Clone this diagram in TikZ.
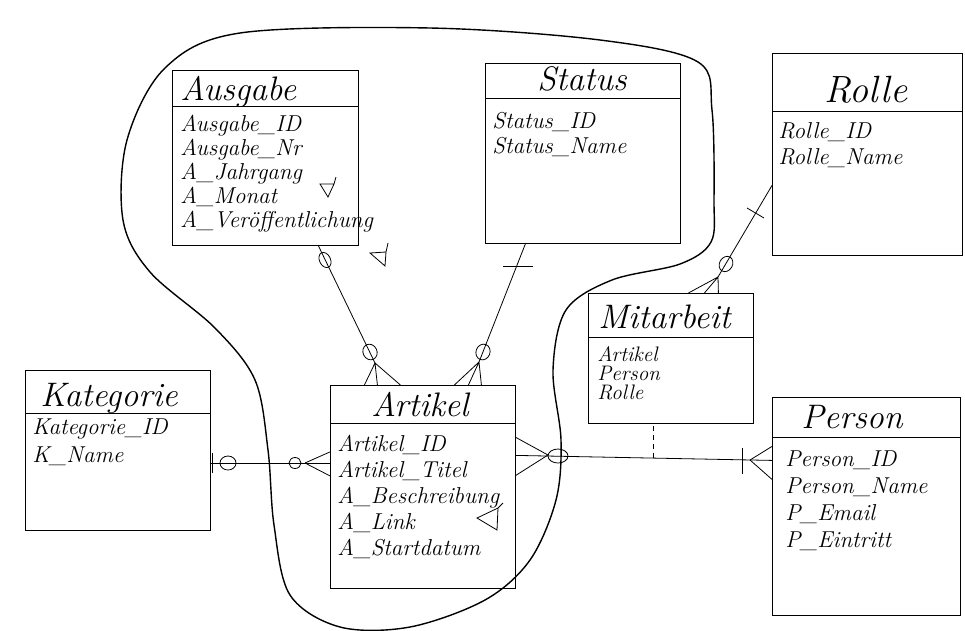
\documentclass[tikz,border=0pt]{standalone}
\usepackage{fontspec}
\usetikzlibrary{calc}

\begin{document}
\begin{tikzpicture}[x=1pt, y=-1pt, line width=0.8pt,
  box/.style={draw, rectangle, anchor=north west, inner sep=0pt},
  titel/.style={font=\fontsize{34}{38}\selectfont\itshape, anchor=base west, inner sep=0pt},
  attr/.style={font=\fontsize{23}{26}\selectfont\itshape, anchor=base west, inner sep=0pt},
  klein/.style={font=\fontsize{21}{21}\selectfont\itshape, anchor=base west, inner sep=0pt}]

\useasboundingbox (0,0) rectangle (965,630);

% the cloud round the core tables
\draw[line width=1.4pt] plot[smooth cycle, tension=0.55] coordinates {(714,200) (712,110)
  (698,62) (600,40) (430,28) (240,33) (165,68) (127,140) (123,220) (150,272) (215,328)
  (255,380) (268,450) (274,525) (290,595) (340,627) (410,627) (485,600) (530,560)
  (556,500) (561,440) (553,370) (566,310) (612,280) (680,264) (711,242)};

% Ausgabe
\node[box, minimum width=186pt, minimum height=175pt] (ausgabe) at (172,70) {};
\draw ([yshift=-36pt]ausgabe.north west) -- ([yshift=-36pt]ausgabe.north east);
\node[titel] (ausgabe-t) at (180,100) {Ausgabe};
\foreach \txt [count=\i] in {Ausgabe\_ID, Ausgabe\_Nr, A\_Jahrgang, A\_Monat, A\_Veröffentlichung}
  \node[attr] (ausgabe-\i) at (180,107+24*\i) {\txt};

% Status
\node[box, minimum width=195pt, minimum height=180pt] (status) at (485,63) {};
\draw ([yshift=-35pt]status.north west) -- ([yshift=-35pt]status.north east);
\node[titel, anchor=base] (status-t) at (582,90) {Status};
\foreach \txt [count=\i] in {Status\_ID, Status\_Name}
  \node[attr] (status-\i) at (492,103+25*\i) {\txt};

% Rolle
\node[box, minimum width=190pt, minimum height=202pt] (rolle) at (772,53) {};
\draw ([yshift=-58pt]rolle.north west) -- ([yshift=-58pt]rolle.north east);
\node[titel, anchor=base, font=\fontsize{38}{40}\selectfont\itshape] (rolle-t) at (866,102) {Rolle};
\foreach \txt [count=\i] in {Rolle\_ID, Rolle\_Name}
  \node[attr] (rolle-\i) at (778,112+26*\i) {\txt};

% Mitarbeit
\node[box, minimum width=165pt, minimum height=130pt] (mitarbeit) at (588,293) {};
\draw ([yshift=-44pt]mitarbeit.north west) -- ([yshift=-44pt]mitarbeit.north east);
\node[titel] (mitarbeit-t) at (598,328) {Mitarbeit};
\foreach \txt [count=\i] in {Artikel, Person, Rolle}
  \node[klein] (mitarbeit-\i) at (597,342+19*\i) {\txt};

% Kategorie
\node[box, minimum width=185pt, minimum height=160pt] (kategorie) at (25,370) {};
\draw ([yshift=-43pt]kategorie.north west) -- ([yshift=-43pt]kategorie.north east);
\node[titel] (kategorie-t) at (40,406) {Kategorie};
\foreach \txt [count=\i] in {Kategorie\_ID, K\_Name}
  \node[attr] (kategorie-\i) at (32,406+28*\i) {\txt};

% Artikel
\node[box, minimum width=185pt, minimum height=203pt] (artikel) at (330,385) {};
\draw ([yshift=-38pt]artikel.north west) -- ([yshift=-38pt]artikel.north east);
\node[titel, anchor=base] (artikel-t) at (420,416) {Artikel};
\foreach \txt [count=\i] in {Artikel\_ID, Artikel\_Titel, A\_Beschreibung, A\_Link, A\_Startdatum}
  \node[attr] (artikel-\i) at (337,425+26*\i) {\txt};

% Person
\node[box, minimum width=188pt, minimum height=218pt] (person) at (772,397) {};
\draw ([yshift=-40pt]person.north west) -- ([yshift=-40pt]person.north east);
\node[titel, anchor=base] (person-t) at (852,428) {Person};
\foreach \txt [count=\i] in {Person\_ID, Person\_Name, P\_Email, P\_Eintritt}
  \node[attr] (person-\i) at (785,439+27*\i) {\txt};

% Ausgabe -- Artikel
\coordinate (fuss1) at (375,363);
\draw ([xshift=53pt]ausgabe.south) -- (fuss1);
\draw (fuss1) -- ([xshift=-58.5pt]artikel.north) (fuss1) -- ([xshift=-45.5pt]artikel.north)
  (fuss1) -- ([xshift=-22.5pt]artikel.north);
\draw[rotate around={-64:(325,260)}] (325,260) ellipse (8 and 5.5);
\draw[rotate around={-64:(370,352)}] (370,352) ellipse (8 and 7);

% Status -- Artikel
\coordinate (fuss2) at (479,362);
\draw ([xshift=-57.5pt]status.south) -- (fuss2);
\draw (fuss2) -- ([xshift=31.5pt]artikel.north) (fuss2) -- ([xshift=45.5pt]artikel.north)
  (fuss2) -- ([xshift=58.5pt]artikel.north);
\draw (503,266) -- (533,266);
\draw[rotate around={-111:(483,352)}] (483,352) ellipse (8 and 7);

% Kategorie -- Artikel
\coordinate (fuss3) at (305,463);
\draw ([yshift=-13pt]kategorie.east) -- ([yshift=23.5pt]artikel.west);
\draw (fuss3) -- ([yshift=35pt]artikel.west) (fuss3) -- ([yshift=11pt]artikel.west);
\draw (212,453) -- (212,473);
\draw (228,463) ellipse (8 and 7);
\draw (295,463) ellipse (6 and 5.5);

% Artikel -- Person
\coordinate (fuss4) at (548,455);
\coordinate (fuss5) at (750,460);
\draw ([yshift=31.5pt]artikel.east) -- ([yshift=46pt]person.west) coordinate[pos=0.537] (mk);
\draw (fuss4) -- ([yshift=49.5pt]artikel.east) (fuss4) -- ([yshift=11.5pt]artikel.east);
\draw (558,456) ellipse (10 and 7);
\draw (fuss5) -- ([yshift=60pt]person.west) (fuss5) -- ([yshift=27pt]person.west);
\draw (742,448) -- (742,474);
\draw[dashed, dash pattern=on 5pt off 4pt] (mk) -- (mk |- mitarbeit.south);

% Rolle -- Mitarbeit
\coordinate (fuss6) at (718,277);
\draw ([yshift=-31pt]rolle.west) -- (fuss6);
\draw (fuss6) -- ([xshift=17.5pt]mitarbeit.north) (fuss6) -- ([xshift=33.5pt]mitarbeit.north)
  (fuss6) -- ([xshift=47.5pt]mitarbeit.north);
\draw (747,208) -- (764,218);
\draw[rotate around={-120:(726,264)}] (726,264) ellipse (8 and 6.5);

% the little delta marks
\draw (320,184) -- (334,184) -- (328,197) -- cycle (334,184) -- (336,177);
\draw (370,253) -- (386,252) -- (385,266) -- cycle (386,252) -- (388,243);
\draw (477,518) -- (498,508) -- (497,530) -- cycle (498,508) -- (503,503);

\end{tikzpicture}
\end{document}
